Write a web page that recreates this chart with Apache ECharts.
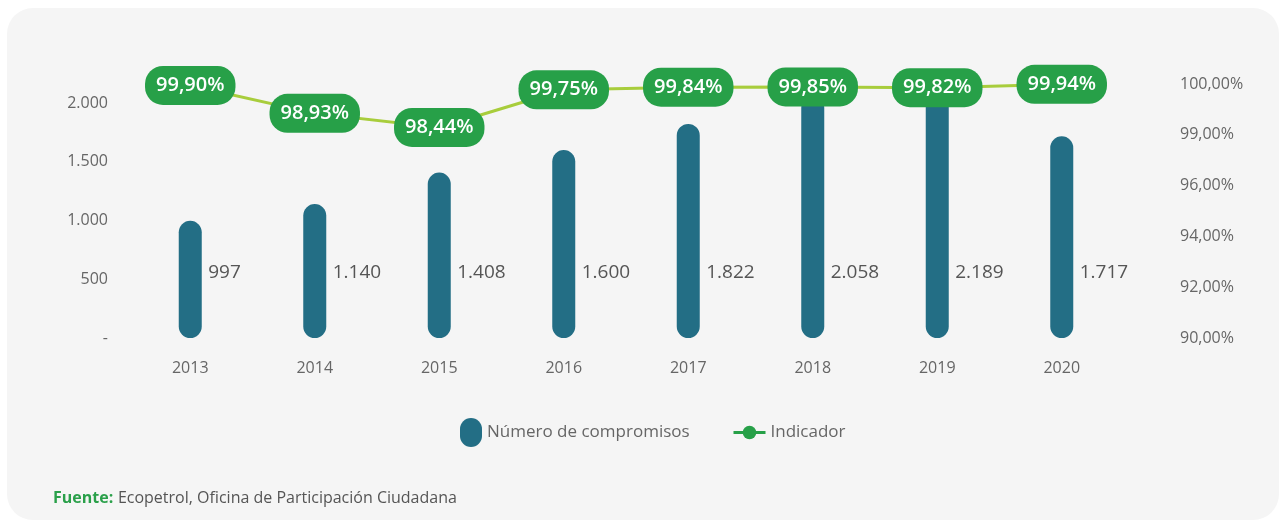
<!DOCTYPE html>
<html>
<head>
    <meta charset="utf-8">
    <title>Número de compromisos e indicador</title>
    <script src="https://cdn.jsdelivr.net/npm/echarts@6/dist/echarts.min.js"></script>
    <style>
        html, body { margin: 0; padding: 0; background: #ffffff; }
    </style>
</head>
<body>
<div id="main" style="width: 1284px;height:530px;"></div>
<script type="text/javascript">
    // datos
    var years = ['2013', '2014', '2015', '2016', '2017', '2018', '2019', '2020'];
    var compromisos = [997, 1140, 1408, 1600, 1822, 2058, 2189, 1717];
    var indicador = [99.90, 98.93, 98.44, 99.75, 99.84, 99.85, 99.82, 99.94];
    var leftTicks = ['-', '500', '1.000', '1.500', '2.000'];
    var rightTicks = ['90,00%', '92,00%', '94,00%', '96,00%', '99,00%', '100,00%'];

    var FONT = 'Open Sans';

    function miles(v) {
        return String(v).replace(/\B(?=(\d{3})+(?!\d))/g, '.');
    }

    var option = {
        backgroundColor: '#ffffff',
        textStyle: { fontFamily: FONT },
        graphic: [{
            type: 'rect',
            z: -10,
            shape: { x: 7, y: 8, width: 1272, height: 512, r: 26 },
            style: { fill: '#f5f5f5' }
        }],
        title: {
            left: 48,
            top: 484,
            text: '{b|Fuente:} {n|Ecopetrol, Oficina de Participación Ciudadana}',
            textStyle: {
                fontWeight: 'normal',
                rich: {
                    b: { fontFamily: FONT, fontSize: 16, fontWeight: 'bold', color: '#2aa04a' },
                    n: { fontFamily: FONT, fontSize: 16, fontWeight: 'normal', color: '#555555' }
                }
            }
        },
        legend: [{
            data: [{ name: 'Número de compromisos', icon: 'path://M0,11 A11,11 0 0 1 22,11 L22,18 A11,11 0 0 1 0,18 Z' }],
            left: 455,
            top: 413,
            itemWidth: 22,
            itemHeight: 29,
            itemGap: 10,
            textStyle: { fontFamily: FONT, fontSize: 17, color: '#666666' }
        }, {
            data: [{ name: 'Indicador', lineStyle: { color: '#27a048', width: 3 } }],
            left: 727,
            top: 419,
            itemWidth: 32,
            itemHeight: 17,
            textStyle: { fontFamily: FONT, fontSize: 17, color: '#666666' }
        }],
        grid: { left: 128, right: 160, top: 84, bottom: 192 },
        xAxis: {
            type: 'category',
            data: years,
            axisLine: { show: false },
            axisTick: { show: false },
            axisLabel: { margin: 22, fontSize: 16, color: '#666666', fontFamily: FONT }
        },
        yAxis: [{
            type: 'value',
            min: 0,
            max: 2162,
            interval: 500,
            splitLine: { show: false },
            axisLine: { show: false },
            axisTick: { show: false },
            axisLabel: {
                margin: 20,
                fontSize: 16,
                color: '#666666',
                fontFamily: FONT,
                showMaxLabel: false,
                formatter: function (v) { return leftTicks[v / 500]; }
            }
        }, {
            type: 'value',
            min: 90,
            max: 100,
            interval: 2,
            position: 'right',
            splitLine: { show: false },
            axisLine: { show: false },
            axisTick: { show: false },
            axisLabel: {
                margin: 56,
                fontSize: 16,
                color: '#666666',
                fontFamily: FONT,
                formatter: function (v) { return rightTicks[Math.round((v - 90) / 2)]; }
            }
        }, {
            type: 'value',
            show: false,
            min: 91.13,
            max: 99.95
        }],
        series: [{
            name: 'Número de compromisos',
            type: 'bar',
            data: compromisos,
            yAxisIndex: 0,
            barWidth: 23,
            clip: false,
            itemStyle: { color: '#236e85', borderRadius: 11.5 },
            label: {
                show: true,
                position: 'insideBottom',
                distance: 5,
                align: 'left',
                verticalAlign: 'middle',
                offset: [18, -60],
                fontSize: 19,
                color: '#555555',
                fontFamily: FONT,
                formatter: function (p) { return miles(p.value); }
            }
        }, {
            name: 'Indicador',
            type: 'line',
            data: indicador,
            yAxisIndex: 2,
            clip: false,
            z: 5,
            symbol: 'circle',
            symbolSize: 8,
            itemStyle: { color: '#27a048' },
            lineStyle: { color: '#a8cd3c', width: 3 },
            label: {
                show: true,
                position: 'inside',
                backgroundColor: '#27a048',
                borderRadius: 18,
                padding: [10, 11, 9, 11],
                color: '#ffffff',
                fontSize: 20,
                fontWeight: 600,
                fontFamily: FONT,
                formatter: function (p) { return p.value.toFixed(2).replace('.', ',') + '%'; }
            }
        }]
    };

    var myChart = echarts.init(document.getElementById('main'));
    myChart.setOption(option);
</script>
</body>
</html>
